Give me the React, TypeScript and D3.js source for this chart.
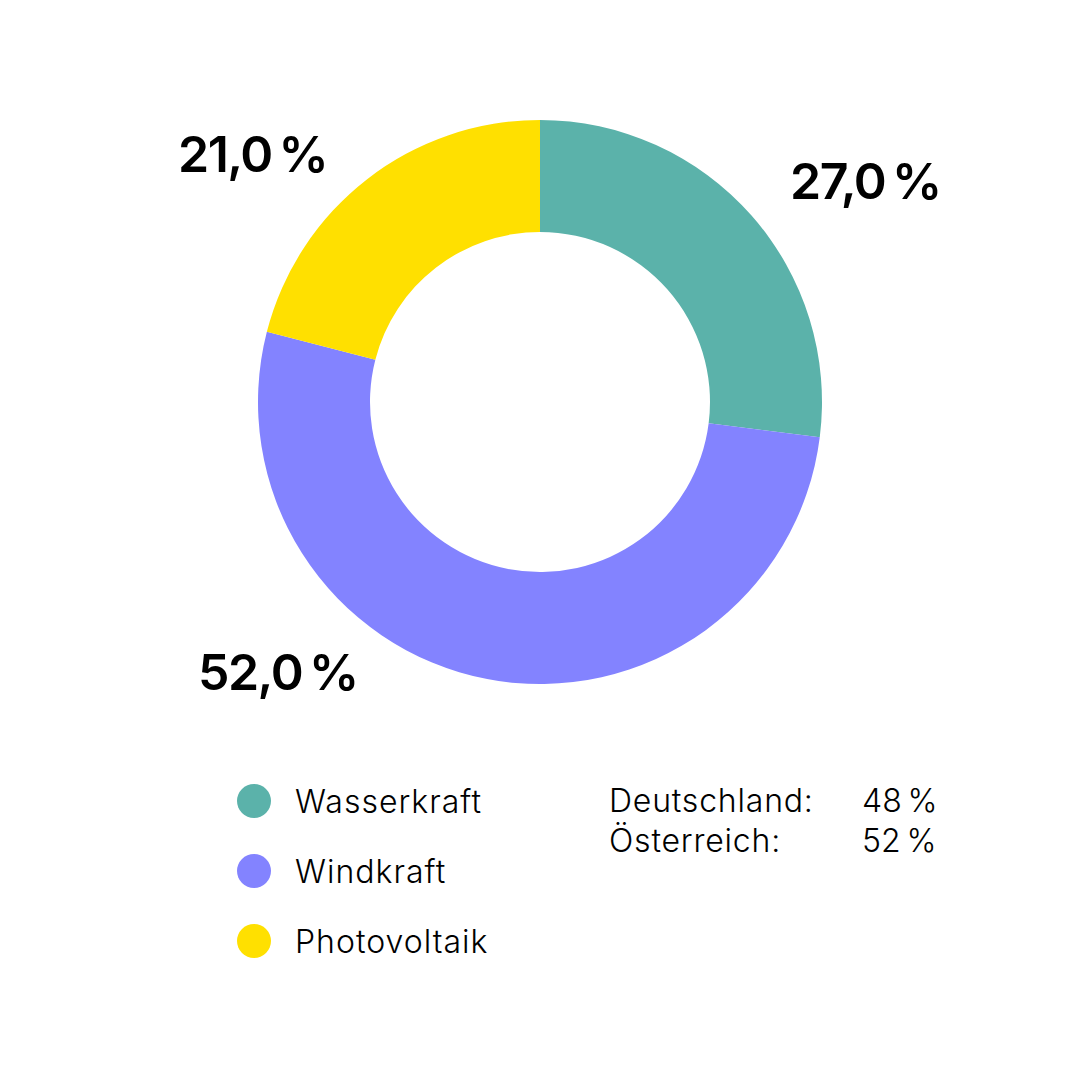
import { useMemo } from 'react';

import { arc, pie, scaleOrdinal } from 'd3';

const categories = ['Wasserkraft', 'Windkraft', 'Photovoltaik'];
const shares = [27, 52, 21];
const colors = ['#5bb2aa', '#8383ff', '#ffe000'];

const countries = ['Deutschland:', 'Österreich:'];
const countryShares = ['48\u2009%', '52\u2009%'];

// label anchors (left edge, baseline) for each slice value
const labelPos = [
  [790, 199],
  [198, 690],
  [178, 172],
];

const cx = 540,
  cy = 402,
  outerR = 282,
  innerR = 170;

const fmt = (v: number) => v.toFixed(1).replace('.', ',') + '\u2009%';

export default function App() {
  const slices = useMemo(
    () =>
      pie<number>()
        .sort(null)
        .value((d) => d)(shares),
    []
  );

  const path = useMemo(
    () => arc<any>().innerRadius(innerR).outerRadius(outerR),
    []
  );

  const color = useMemo(
    () => scaleOrdinal<string, string>().domain(categories).range(colors),
    []
  );

  return (
    <svg
      width={1080}
      height={1080}
      style={{ position: 'absolute', left: 0, top: 0, background: '#fff' }}
      fontFamily="Inter, 'Noto Sans', sans-serif"
    >
      <g transform={`translate(${cx},${cy})`}>
        {slices.map((s, i) => (
          <path key={i} d={path(s) ?? ''} fill={color(categories[i])} />
        ))}
      </g>
      <g className="values">
        {slices.map((s, i) => (
          <text
            key={i}
            x={labelPos[i][0]}
            y={labelPos[i][1]}
            fontSize={50}
            fontWeight={600}
            letterSpacing={-1.5}
            fill="#000"
          >
            {fmt(s.data)}
          </text>
        ))}
      </g>
      <g className="legend">
        {categories.map((c, i) => (
          <g key={c} transform={`translate(0,${i * 70})`}>
            <circle cx={254} cy={801} r={17} fill={color(c)} />
            <text
              x={295}
              y={813}
              fontSize={32}
              fontWeight={300}
              letterSpacing={1}
              fill="#000"
            >
              {c}
            </text>
          </g>
        ))}
      </g>
      <g className="countries">
        {countries.map((c, i) => (
          <g key={c} transform={`translate(0,${i * 40})`}>
            <text
              x={609}
              y={812}
              fontSize={32}
              fontWeight={300}
              letterSpacing={0.8}
              fill="#000"
            >
              {c}
            </text>
            <text
              x={862}
              y={812}
              fontSize={32}
              fontWeight={300}
              fill="#000"
            >
              {countryShares[i]}
            </text>
          </g>
        ))}
      </g>
    </svg>
  );
}
